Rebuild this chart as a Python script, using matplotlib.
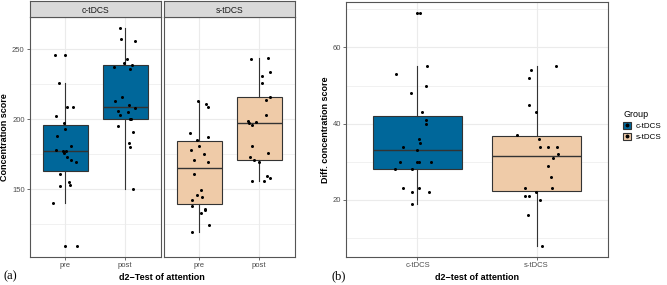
import numpy as np
import matplotlib.pyplot as plt
from matplotlib.patches import Patch
from matplotlib.lines import Line2D

# concentration scores (panel a)
c_pre = [246, 226, 209, 209, 202, 197, 193, 188, 181, 178, 177, 177, 176, 173, 171, 169, 161, 155, 153, 152, 140, 109]
c_post = [265, 257, 256, 243, 240, 239, 237, 236, 216, 213, 210, 208, 206, 205, 203, 200, 200, 195, 191, 183, 180, 150]
s_pre = [213, 211, 209, 190, 187, 185, 181, 178, 175, 171, 169, 161, 149, 146, 144, 142, 138, 136, 135, 133, 124, 119]
s_post = [244, 243, 234, 231, 226, 216, 214, 203, 199, 198, 197, 196, 181, 176, 173, 171, 169, 159, 158, 156, 156]

# difference scores (panel b)
c_diff = [69, 55, 53, 50, 48, 43, 41, 40, 36, 35, 34, 33, 30, 30, 30, 30, 28, 28, 23, 23, 22, 22, 19]
s_diff = [55, 54, 52, 45, 43, 37, 36, 34, 34, 34, 32, 31, 29, 26, 23, 23, 22, 21, 21, 20, 16, 8]

groups = ["c-tDCS", "s-tDCS"]
times = ["pre", "post"]
colors = {"c-tDCS": "#00679A", "s-tDCS": "#EFCBA8"}

plt.rcParams['font.family'] = ['Liberation Sans', 'DejaVu Sans']
rng = np.random.default_rng(3)

edge = "#333333"
grid_c = "#EBEBEB"
border_c = "#555555"


def style_axes(ax, yticks, yminor, ylim):
    ax.set_xlim(0.4, 2.6)
    ax.set_ylim(*ylim)
    ax.set_yticks(yticks)
    ax.set_yticks(yminor, minor=True)
    ax.grid(True, which="major", color=grid_c, lw=0.8, zorder=0)
    ax.grid(True, which="minor", axis="y", color=grid_c, lw=0.5, zorder=0)
    ax.set_axisbelow(True)
    ax.tick_params(axis="both", which="major", labelsize=5.5, labelcolor="#4D4D4D",
                   color="#333333", length=2, width=0.5, pad=1.5)
    ax.tick_params(axis="both", which="minor", length=0)
    for s in ax.spines.values():
        s.set_color(border_c)
        s.set_linewidth(0.8)


def draw_boxes(ax, data, cols):
    bp = ax.boxplot(data, positions=[1, 2], widths=0.75, patch_artist=True, showcaps=False,
                    boxprops=dict(edgecolor=edge, lw=0.8),
                    medianprops=dict(color=edge, lw=1.0),
                    whiskerprops=dict(color=edge, lw=0.8),
                    flierprops=dict(marker="o", markerfacecolor="black", markeredgewidth=0,
                                    markersize=2.2),
                    zorder=2)
    for patch, c in zip(bp["boxes"], cols):
        patch.set_facecolor(c)
    # jittered points
    for i, vals in enumerate(data):
        x = i + 1 + rng.uniform(-0.2, 0.2, len(vals))
        ax.scatter(x, vals, s=4.8, color="black", zorder=3, linewidths=0)


fig = plt.figure(figsize=(6.67, 2.85), dpi=100)

bottom = 1 - 257.3 / 285
top_a = 1 - 17.3 / 285
ax1 = fig.add_axes([29.5 / 667, bottom, 131.5 / 667, top_a - bottom])
ax2 = fig.add_axes([163.5 / 667, bottom, 131.5 / 667, top_a - bottom])
ax3 = fig.add_axes([346 / 667, bottom, 262 / 667, 1 - 1.5 / 285 - bottom])

# panel a, one facet per group
for ax, g, data in [(ax1, "c-tDCS", [c_pre, c_post]), (ax2, "s-tDCS", [s_pre, s_post])]:
    draw_boxes(ax, data, [colors[g], colors[g]])
    style_axes(ax, [150, 200, 250], [125, 175, 225], (101.2, 272.8))
    ax.set_xticks([1, 2])
    ax.set_xticklabels(times)

    pos = ax.get_position()
    strip = fig.add_axes([pos.x0, pos.y1, pos.width, 16 / 285])
    strip.set_facecolor("#D9D9D9")
    strip.set_xticks([])
    strip.set_yticks([])
    for s in strip.spines.values():
        s.set_color(border_c)
        s.set_linewidth(0.8)
    strip.text(0.5, 0.45, g, ha="center", va="center", fontsize=6.2, color="#1A1A1A")

ax2.tick_params(axis="y", left=False, labelleft=False)
ax1.set_ylabel("Concentration score", fontsize=6.5, fontweight="bold", labelpad=2)

# panel b
draw_boxes(ax3, [c_diff, s_diff], [colors[g] for g in groups])
style_axes(ax3, [20, 40, 60], [10, 30, 50, 70], (4.95, 72.05))
ax3.set_xticks([1, 2])
ax3.set_xticklabels(groups)
ax3.set_ylabel("Diff. concentration score", fontsize=6.5, fontweight="bold", labelpad=2)

fig.text(162 / 667, 1 - 277 / 285, "d2\u2212Test of attention", ha="center", va="center",
         fontsize=6.5, fontweight="bold")
fig.text(477 / 667, 1 - 277 / 285, "d2\u2212test of attention", ha="center", va="center",
         fontsize=6.5, fontweight="bold")

fig.text(4 / 667, 1 - 276 / 285, "(a)", ha="left", va="center", fontsize=9,
         family=["Liberation Serif", "DejaVu Serif"])
fig.text(331 / 667, 1 - 276 / 285, "(b)", ha="left", va="center", fontsize=9,
         family=["Liberation Serif", "DejaVu Serif"])

handles = [(Patch(facecolor=colors[g], edgecolor=edge, lw=0.8),
            Line2D([], [], color="black", marker="o", markersize=1.8, linestyle="none"))
           for g in groups]
fig.legend(handles=handles, labels=groups, title="Group", loc="upper left",
           bbox_to_anchor=(620 / 667, 1 - 107 / 285), frameon=False, fontsize=5.8,
           title_fontsize=6.5, handlelength=1.0, handleheight=0.9, handletextpad=0.5,
           labelspacing=0.35, borderaxespad=0, alignment="left")

fig.savefig("out.png", dpi=100)
